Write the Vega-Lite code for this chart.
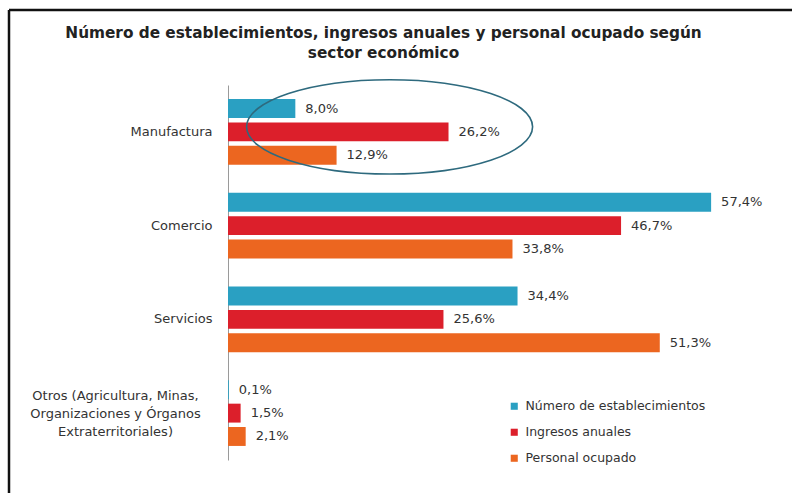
{
  "$schema": "https://vega.github.io/schema/vega-lite/v6.json",
  "autosize": {"type": "none"},
  "padding": {"left": 9, "top": 10, "right": 0, "bottom": 0},
  "width": 783,
  "height": 483,
  "background": "white",
  "config": {
    "view": {"stroke": "#111111", "strokeWidth": 2.5, "strokeDash": [783, 1266, 483, 0]},
    "font": "DejaVu Sans"
  },
  "title": {
    "text": ["Número de establecimientos, ingresos anuales y personal ocupado según", "sector económico"],
    "font": "DejaVu Sans",
    "fontSize": 15.3,
    "fontWeight": "bold",
    "color": "#222222",
    "anchor": "middle",
    "frame": "group",
    "offset": -51,
    "dx": -17,
    "lineHeight": 20
  },
  "datasets": {
    "bars": [
      {"sector": "Manufactura", "serie": "Número de establecimientos", "valor": 8.0, "etiqueta": "8,0%"},
      {"sector": "Manufactura", "serie": "Ingresos anuales", "valor": 26.2, "etiqueta": "26,2%"},
      {"sector": "Manufactura", "serie": "Personal ocupado", "valor": 12.9, "etiqueta": "12,9%"},
      {"sector": "Comercio", "serie": "Número de establecimientos", "valor": 57.4, "etiqueta": "57,4%"},
      {"sector": "Comercio", "serie": "Ingresos anuales", "valor": 46.7, "etiqueta": "46,7%"},
      {"sector": "Comercio", "serie": "Personal ocupado", "valor": 33.8, "etiqueta": "33,8%"},
      {"sector": "Servicios", "serie": "Número de establecimientos", "valor": 34.4, "etiqueta": "34,4%"},
      {"sector": "Servicios", "serie": "Ingresos anuales", "valor": 25.6, "etiqueta": "25,6%"},
      {"sector": "Servicios", "serie": "Personal ocupado", "valor": 51.3, "etiqueta": "51,3%"},
      {"sector": "Otros", "serie": "Número de establecimientos", "valor": 0.1, "etiqueta": "0,1%"},
      {"sector": "Otros", "serie": "Ingresos anuales", "valor": 1.5, "etiqueta": "1,5%"},
      {"sector": "Otros", "serie": "Personal ocupado", "valor": 2.1, "etiqueta": "2,1%"}
    ],
    "resaltado": [
      {"sector": "Manufactura", "valor": 19.2}
    ]
  },
  "encoding": {
    "y": {
      "field": "sector",
      "type": "nominal",
      "sort": ["Manufactura", "Comercio", "Servicios", "Otros"],
      "scale": {"domain": ["Manufactura", "Comercio", "Servicios", "Otros"], "range": [75, 450], "paddingInner": 0.3, "paddingOuter": 0.15},
      "axis": {
        "title": null,
        "offset": -219,
        "ticks": false,
        "domainColor": "#9a9a9a",
        "domainWidth": 1,
        "labelFont": "DejaVu Sans",
        "labelFontSize": 13,
        "labelColor": "#333333",
        "labelLineHeight": 18,
        "labelLimit": 0,
        "labelAlign": {"condition": {"test": "datum.value === 'Otros'", "value": "center"}, "value": "right"},
        "labelPadding": {"condition": {"test": "datum.value === 'Otros'", "value": 113}, "value": 16},
        "labelOffset": {"condition": {"test": "datum.value === 'Otros'", "value": -17}, "value": 0},
        "labelExpr": "datum.value === 'Otros' ? ['Otros (Agricultura, Minas,', 'Organizaciones y Órganos', 'Extraterritoriales)'] : datum.value"
      }
    },
    "x": {
      "field": "valor",
      "type": "quantitative",
      "scale": {"domain": [0, 60], "range": [219, 724], "nice": false},
      "axis": null
    }
  },
  "layer": [
    {
      "data": {"name": "bars"},
      "mark": {"type": "bar"},
      "encoding": {
        "yOffset": {
          "field": "serie",
          "type": "nominal",
          "sort": ["Número de establecimientos", "Ingresos anuales", "Personal ocupado"],
          "scale": {"paddingInner": 0.19, "paddingOuter": 0}
        },
        "color": {
          "field": "serie",
          "type": "nominal",
          "scale": {
            "domain": ["Número de establecimientos", "Ingresos anuales", "Personal ocupado"],
            "range": ["#2AA0C2", "#DC1F2B", "#EC6620"]
          },
          "legend": {
            "title": null,
            "orient": "none",
            "legendX": 499,
            "legendY": 390,
            "symbolType": "square",
            "symbolSize": 50,
            "symbolStrokeWidth": 0,
            "labelFont": "DejaVu Sans",
            "labelFontSize": 12.5,
            "labelColor": "#333333",
            "labelOffset": 5,
            "labelLimit": 0,
            "rowPadding": 13
          }
        }
      }
    },
    {
      "data": {"name": "bars"},
      "mark": {"type": "text", "align": "left", "baseline": "middle", "dx": 10, "font": "DejaVu Sans", "fontSize": 13, "color": "#333333"},
      "encoding": {
        "yOffset": {
          "field": "serie",
          "type": "nominal",
          "sort": ["Número de establecimientos", "Ingresos anuales", "Personal ocupado"],
          "scale": {"paddingInner": 0.19, "paddingOuter": 0}
        },
        "text": {"field": "etiqueta", "type": "nominal"}
      }
    },
    {
      "data": {"name": "resaltado"},
      "mark": {
        "type": "point",
        "shape": "M -1 -0.035 A 1 0.33 0 1 0 1 -0.035 A 1 0.33 0 1 0 -1 -0.035 Z",
        "size": 81796,
        "filled": false,
        "stroke": "#2E6A7E",
        "strokeWidth": 1.6,
        "opacity": 1
      },
      "encoding": {}
    }
  ]
}
